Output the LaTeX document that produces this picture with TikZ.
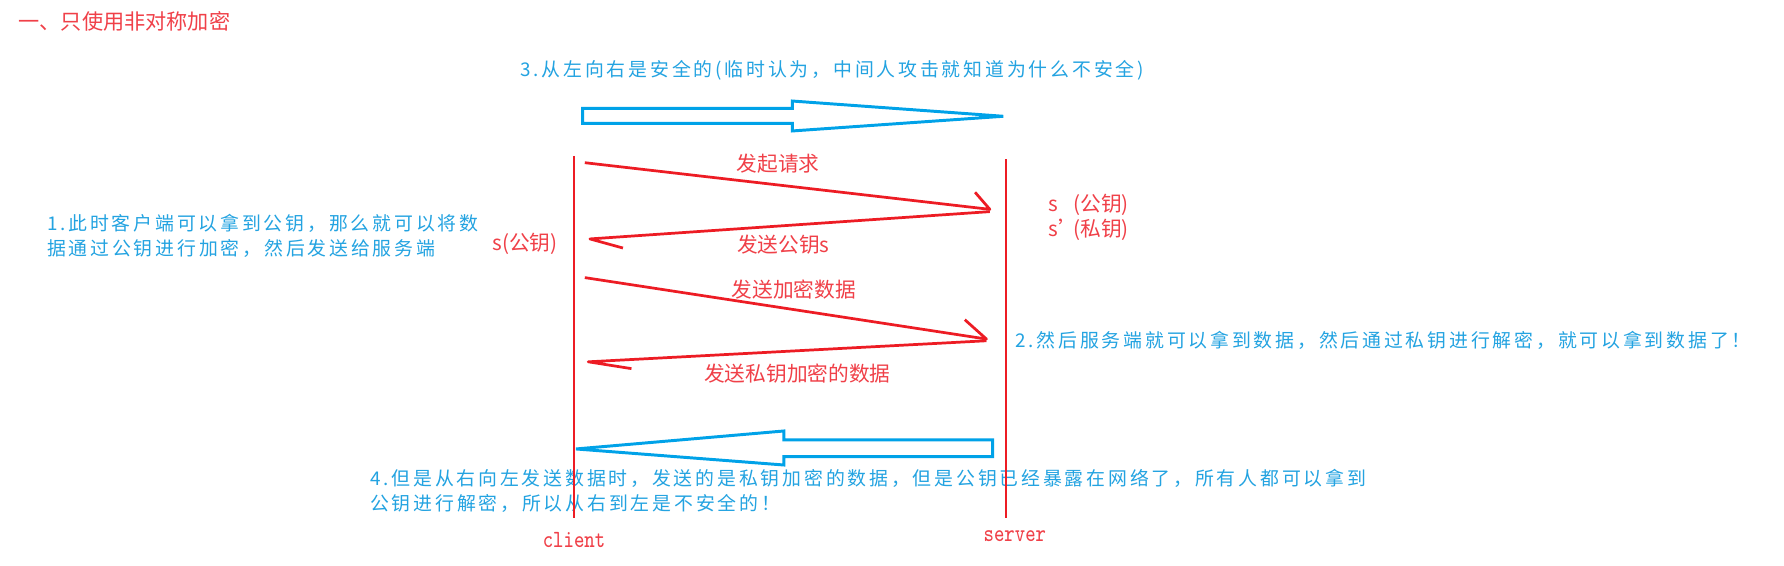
\documentclass[tikz,border=0pt]{standalone}
\usepackage{fontspec}
\usepackage{graphicx}
\setmainfont{Noto Sans CJK SC}
\newfontfamily\bluefont{Noto Sans CJK SC}[LetterSpace=15]
\definecolor{lred}{RGB}{237,28,36}
\definecolor{tred}{RGB}{240,64,72}
\definecolor{lblue}{RGB}{0,162,232}
\definecolor{tblue}{RGB}{35,163,225}
\begin{document}
\begin{tikzpicture}[x=0.5pt,y=-0.5pt,
  bluetxt/.style={inner sep=0pt, anchor=west, text=tblue, align=left,
    font=\bluefont\fontsize{8.3pt}{11pt}\selectfont},
  redtxt/.style={inner sep=0pt, text=tred, font=\fontsize{9.1pt}{11pt}\selectfont},
  lifeline/.style={draw=lred, line width=1.25pt},
  msg/.style={draw=lred, line width=1.2pt, line join=round},
  hollow/.style={draw=lblue, line width=1.3pt, line join=miter},
  endlabel/.style={inner sep=0pt, text=tred, font=\ttfamily\fontsize{8.7pt}{10pt}\selectfont}]
\fill[white] (0,0) rectangle (1568,497);
\useasboundingbox (0,0) rectangle (1568,497);

% title
\node[inner sep=0pt, anchor=west, text=tred, font=\fontsize{9.3pt}{11pt}\selectfont] (title) at (16,19) {一、只使用非对称加密};

% notes
\node[bluetxt] (note3) at (457,61.5) {3.从左向右是安全的(临时认为，中间人攻击就知道为什么不安全)};
\node[bluetxt] (note1) at (41,207.3) {1.此时客户端可以拿到公钥，那么就可以将数\\据通过公钥进行加密，然后发送给服务端};
\node[bluetxt] (note2) at (892,298.8) {2.然后服务端就可以拿到数据，然后通过私钥进行解密，就可以拿到数据了！};
\node[bluetxt] (note4) at (325,431.4) {4.但是从右向左发送数据时，发送的是私钥加密的数据，但是公钥已经暴露在网络了，所有人都可以拿到\\公钥进行解密，所以从右到左是不安全的！};

% lifelines
\coordinate (ctop) at (504.5,137);
\coordinate (cbot) at (504.5,455);
\coordinate (stop) at (884.2,140);
\coordinate (sbot) at (884.2,455);
\draw[lifeline] (ctop) -- (cbot);
\draw[lifeline] (stop) -- (sbot);

\node[endlabel] (client) at (504.5,475) {\scalebox{1}[1.25]{client}};
\node[endlabel] (server) at (892,471.5) {\scalebox{1}[1.25]{server}};

% key labels
\node[redtxt, anchor=west] (ckey) at (432.5,213.9) {s(公钥)};
\node[redtxt, anchor=west, align=left, font=\fontsize{9.1pt}{11pt}\selectfont] (skeys) at (921,191) {\makebox[11pt][l]{s}(公钥)\\\makebox[11pt][l]{s’}(私钥)};

% messages
\coordinate (m1s) at (514,143);   \coordinate (m1e) at (870,184);   \coordinate (m1b) at (857,169);
\coordinate (m2s) at (870,186);   \coordinate (m2e) at (518.5,210); \coordinate (m2b) at (547.5,218);
\coordinate (m3s) at (514,244);   \coordinate (m3e) at (867,298);   \coordinate (m3b) at (848,281);
\coordinate (m4s) at (867,299.5); \coordinate (m4e) at (517,318);   \coordinate (m4b) at (555,324);
\draw[msg] (m1s) -- (m1e) -- (m1b);
\draw[msg] (m2s) -- (m2e) -- (m2b);
\draw[msg] (m3s) -- (m3e) -- (m3b);
\draw[msg] (m4s) -- (m4e) -- (m4b);

\node[redtxt] (lreq) at (683.8,144) {发起请求};
\node[redtxt] (lpub) at (688.5,215.3) {发送公钥s};
\node[redtxt] (lenc) at (697.7,254.3) {发送加密数据};
\node[redtxt] (lpriv) at (700.9,328.1) {发送私钥加密的数据};

% hollow arrows
\coordinate (ta1) at (512,95.2);
\coordinate (ta2) at (696.4,95.2);
\coordinate (ta3) at (696.4,88.8);
\coordinate (tatip) at (881.8,102.2);
\coordinate (ta5) at (696.4,115.1);
\coordinate (ta6) at (696.4,108.4);
\coordinate (ta7) at (512,108.4);
\draw[hollow] (ta1) -- (ta2) -- (ta3) -- (tatip) -- (ta5) -- (ta6) -- (ta7) -- cycle;

\coordinate (batip) at (506.2,394.6);
\coordinate (ba2) at (689,378.8);
\coordinate (ba3) at (689,386.7);
\coordinate (ba4) at (872.4,386.7);
\coordinate (ba5) at (872.4,401.4);
\coordinate (ba6) at (689,401.4);
\coordinate (ba7) at (689,408.7);
\draw[hollow] (batip) -- (ba2) -- (ba3) -- (ba4) -- (ba5) -- (ba6) -- (ba7) -- cycle;
\end{tikzpicture}
\end{document}
